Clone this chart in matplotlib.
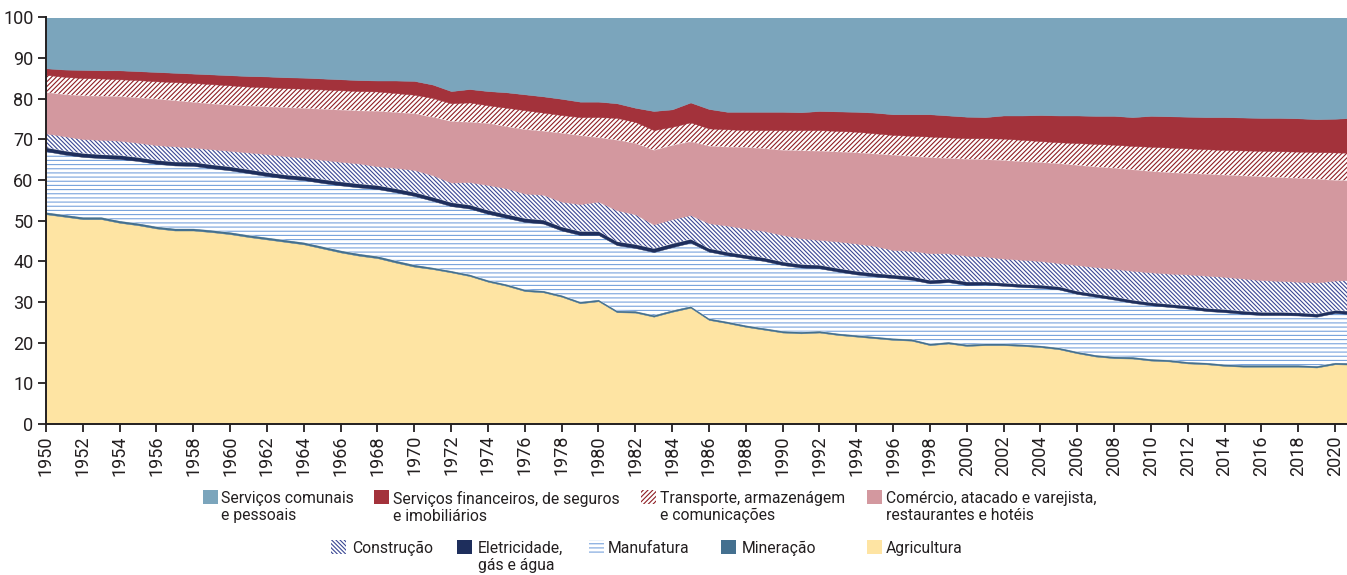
import matplotlib
matplotlib.use("Agg")
import matplotlib.pyplot as plt
from matplotlib.patches import Rectangle

# ---------------- data (shares of employment, %) ----------------
years = list(range(1950, 2022))

agricultura = [51.6, 51.0, 50.4, 50.4, 49.5, 48.9, 48.1, 47.6, 47.6, 47.2,
               46.7, 46.0, 45.4, 44.8, 44.2, 43.2, 42.2, 41.4, 40.8, 39.7,
               38.7, 38.1, 37.3, 36.4, 35.0, 34.0, 32.7, 32.4, 31.3, 29.7,
               30.2, 27.5, 27.4, 26.4, 27.6, 28.6, 25.6, 24.8, 23.9, 23.2,
               22.5, 22.3, 22.5, 21.9, 21.5, 21.1, 20.7, 20.5, 19.4, 19.8,
               19.2, 19.4, 19.4, 19.2, 18.9, 18.4, 17.4, 16.6, 16.2, 16.1,
               15.6, 15.4, 14.9, 14.7, 14.3, 14.1, 14.1, 14.1, 14.1, 13.9,
               14.7, 14.6]

mineracao = [0.5, 0.5, 0.5, 0.5, 0.5, 0.5, 0.5, 0.5, 0.5, 0.5,
             0.5, 0.5, 0.5, 0.5, 0.5, 0.5, 0.5, 0.5, 0.5, 0.5,
             0.5, 0.4, 0.4, 0.4, 0.4, 0.4, 0.4, 0.4, 0.4, 0.4,
             0.4, 0.4, 0.4, 0.4, 0.4, 0.4, 0.4, 0.4, 0.4, 0.4,
             0.4, 0.4, 0.4, 0.4, 0.4, 0.4, 0.4, 0.4, 0.4, 0.4,
             0.4, 0.4, 0.4, 0.4, 0.4, 0.4, 0.4, 0.4, 0.4, 0.4,
             0.4, 0.4, 0.4, 0.4, 0.4, 0.4, 0.4, 0.4, 0.4, 0.4,
             0.4, 0.4]

manufatura = [15.0, 14.8, 14.8, 14.5, 15.2, 15.3, 15.4, 15.5, 15.4, 15.2,
              15.2, 15.2, 15.1, 15.1, 15.3, 15.6, 16.0, 16.3, 16.5, 16.8,
              16.9, 16.4, 15.9, 16.2, 16.3, 16.3, 16.6, 16.5, 15.9, 16.4,
              15.9, 16.1, 15.5, 15.5, 15.5, 15.6, 16.4, 16.3, 16.5, 16.5,
              16.2, 15.8, 15.4, 15.2, 14.9, 14.8, 14.8, 14.6, 14.8, 14.7,
              14.6, 14.5, 14.2, 14.1, 14.2, 14.3, 14.2, 14.3, 14.0, 13.3,
              13.2, 13.0, 13.1, 12.7, 12.8, 12.6, 12.3, 12.3, 12.2, 12.1,
              12.2, 12.0]

eletricidade = [0.9, 0.9, 0.9, 0.9, 0.9, 0.9, 0.9, 0.9, 0.9, 0.9,
                0.9, 0.9, 0.9, 0.9, 0.9, 0.9, 0.9, 0.9, 0.9, 0.9,
                0.9, 0.9, 0.9, 0.9, 0.9, 0.9, 0.9, 0.9, 0.9, 0.9,
                0.9, 0.9, 0.9, 0.9, 0.9, 0.9, 0.8, 0.8, 0.8, 0.8,
                0.8, 0.8, 0.8, 0.8, 0.8, 0.8, 0.8, 0.8, 0.8, 0.8,
                0.8, 0.7, 0.7, 0.7, 0.7, 0.7, 0.7, 0.7, 0.7, 0.7,
                0.7, 0.7, 0.7, 0.7, 0.7, 0.7, 0.7, 0.7, 0.7, 0.7,
                0.7, 0.7]

construcao = [3.5, 3.6, 3.5, 3.6, 3.6, 3.6, 3.7, 3.8, 3.6, 3.8,
              3.9, 4.2, 4.5, 4.6, 4.6, 4.8, 4.9, 5.0, 4.7, 5.1,
              5.5, 5.4, 4.9, 5.6, 6.2, 6.4, 6.1, 6.2, 6.2, 6.7,
              7.3, 7.7, 7.4, 5.9, 6.0, 5.9, 6.2, 6.5, 6.5, 6.6,
              6.6, 6.4, 6.2, 6.6, 6.8, 6.7, 6.1, 6.3, 6.6, 6.3,
              6.4, 6.2, 6.0, 6.0, 5.9, 5.8, 6.4, 6.6, 6.9, 7.2,
              7.4, 7.5, 7.7, 8.0, 8.0, 8.0, 7.9, 7.7, 7.6, 7.7,
              7.3, 7.7]

comercio = [10.1, 10.3, 10.7, 10.8, 10.9, 11.1, 11.4, 11.3, 11.2, 11.2,
            11.3, 11.5, 11.7, 12.0, 12.2, 12.5, 12.8, 13.0, 13.6, 13.7,
            13.9, 14.3, 15.1, 14.8, 15.2, 15.2, 15.8, 15.7, 16.9, 16.9,
            15.8, 17.3, 17.5, 18.3, 18.2, 18.1, 19.0, 19.4, 20.0, 20.3,
            20.9, 21.6, 21.9, 22.1, 22.4, 22.7, 23.4, 23.3, 23.6, 23.4,
            23.8, 23.9, 24.2, 24.2, 24.3, 24.5, 24.6, 24.7, 24.8, 24.9,
            24.9, 24.9, 24.9, 25.0, 25.1, 25.3, 25.5, 25.5, 25.5, 25.5,
            24.7, 24.5]

transporte = [4.3, 4.3, 4.3, 4.3, 4.2, 4.3, 4.3, 4.5, 4.7, 4.8,
              4.8, 4.7, 4.7, 4.7, 4.8, 4.8, 4.8, 4.8, 4.8, 4.7,
              4.6, 4.7, 4.4, 4.8, 4.4, 4.6, 4.7, 4.5, 4.4, 4.5,
              5.0, 5.4, 5.2, 4.9, 4.5, 4.7, 4.3, 4.3, 4.2, 4.5,
              4.9, 5.0, 5.1, 5.1, 5.1, 5.0, 4.9, 5.0, 5.1, 5.1,
              5.1, 5.2, 5.3, 5.3, 5.2, 5.2, 5.4, 5.6, 5.7, 5.8,
              6.0, 6.1, 6.1, 6.1, 6.1, 6.2, 6.3, 6.4, 6.5, 6.6,
              6.8, 6.8]

financeiros = [1.6, 1.8, 2.0, 2.0, 2.2, 2.2, 2.3, 2.3, 2.3, 2.4,
               2.5, 2.6, 2.7, 2.7, 2.7, 2.7, 2.7, 2.7, 2.7, 3.1,
               3.4, 3.3, 3.0, 3.3, 3.5, 3.8, 3.9, 4.0, 4.0, 3.8,
               3.8, 3.6, 3.5, 4.7, 4.3, 4.9, 4.8, 4.3, 4.5, 4.5,
               4.5, 4.4, 4.7, 4.8, 4.9, 5.1, 5.1, 5.3, 5.5, 5.4,
               5.3, 5.2, 5.7, 6.0, 6.4, 6.6, 6.8, 6.9, 7.1, 7.1,
               7.6, 7.7, 7.8, 7.9, 8.1, 8.1, 8.1, 8.2, 8.2, 8.1,
               8.3, 8.6]

servicos = [12.5, 12.8, 12.9, 13.0, 13.0, 13.2, 13.4, 13.6, 13.8, 14.0,
            14.2, 14.4, 14.5, 14.7, 14.8, 15.0, 15.2, 15.4, 15.5, 15.5,
            15.6, 16.5, 18.1, 17.6, 18.1, 18.4, 18.9, 19.4, 20.0, 20.7,
            20.7, 21.1, 22.2, 23.0, 22.6, 20.9, 22.5, 23.2, 23.2, 23.2,
            23.2, 23.3, 23.0, 23.1, 23.2, 23.4, 23.8, 23.8, 23.8, 24.1,
            24.4, 24.5, 24.1, 24.1, 24.0, 24.1, 24.1, 24.2, 24.2, 24.5,
            24.2, 24.3, 24.4, 24.5, 24.5, 24.6, 24.7, 24.7, 24.8, 25.0,
            24.9, 24.7]

labels = ["Agricultura", "Mineração", "Manufatura", "Eletricidade,\ngás e água",
          "Construção", "Comércio, atacado e varejista,\nrestaurantes e hotéis",
          "Transporte, armazenágem\ne comunicações",
          "Serviços financeiros, de seguros\ne imobiliários",
          "Serviços comunais\ne pessoais"]

xtick_years = list(range(1950, 2021, 2))
ytick_vals = list(range(0, 101, 10))

# ---------------- style ----------------
plt.rcParams["font.family"] = ["Roboto", "DejaVu Sans"]
plt.rcParams["hatch.linewidth"] = 0.8

c_agri = "#FEE4A3"
c_min = "#44708F"
c_manuf = "#78A3DC"
c_elec = "#1E2E5C"
c_constr = "#3A4794"
c_com = "#D3989F"
c_trans = "#8E1E24"
c_fin = "#A3323B"
c_serv = "#7BA5BC"

h_manuf = "----"
h_constr = "\\" * 8
h_trans = "/" * 7

# (face, hatch colour, hatch)
styles = [
    (c_agri, None, None),
    (c_min, None, None),
    ("white", c_manuf, h_manuf),
    (c_elec, None, None),
    ("white", c_constr, h_constr),
    (c_com, None, None),
    ("white", c_trans, h_trans),
    (c_fin, None, None),
    (c_serv, None, None),
]

W, H = 1347, 575
fig = plt.figure(figsize=(W / 100, H / 100), dpi=100)
ax = fig.add_axes([46 / W, 1 - 424 / H, 1 - 46 / W, (424 - 17.5) / H])

series = [agricultura, mineracao, manufatura, eletricidade, construcao,
          comercio, transporte, financeiros, servicos]
polys = ax.stackplot(years, *series, linewidth=0)
for poly, (fc, hc, hatch) in zip(polys, styles):
    poly.set_facecolor(fc)
    if hatch:
        poly.set_edgecolor(hc)
        poly.set_hatch(hatch)
        poly.set_linewidth(0)
    else:
        poly.set_edgecolor(fc)
        poly.set_linewidth(0.3)

ax.set_xlim(1950, 2020.65)
ax.set_ylim(0, 100)
ax.set_xticks(xtick_years)
ax.set_xticklabels([str(y) for y in xtick_years], rotation=90)
ax.set_yticks(ytick_vals)
ax.set_yticklabels([str(v) for v in ytick_vals])
for s in ["top", "right"]:
    ax.spines[s].set_visible(False)
for s in ["left", "bottom"]:
    ax.spines[s].set_linewidth(1.4)
    ax.spines[s].set_color("#231F20")
    ax.spines[s].set_zorder(5)
ax.tick_params(axis="both", direction="out", length=6, width=1.3,
               color="#231F20", labelcolor="#231F20", labelsize=13, pad=3)
ax.tick_params(axis="x", pad=2)

# ---------------- legend (manual layout) ----------------
def px2fig(x, y):
    return x / W, 1 - y / H

legend_items = [
    # (label, face, hatch colour, hatch, patch x, patch top y, text x)
    (labels[8], c_serv, None, None, 203, 490, 221),
    (labels[7], c_fin, None, None, 374, 490, 393),
    (labels[6], "white", c_trans, h_trans, 641, 490, 660),
    (labels[5], c_com, None, None, 867, 490, 886),
    (labels[4], "white", c_constr, h_constr, 331, 540, 352),
    (labels[3], c_elec, None, None, 457, 540, 478),
    (labels[2], "white", c_manuf, h_manuf, 589, 540, 608),
    (labels[1], c_min, None, None, 721, 540, 742),
    (labels[0], c_agri, None, None, 867, 540, 886),
]
pw, ph = 15, 14
for lab, fc, hc, hatch, x, y, tx in legend_items:
    fx, fy = px2fig(x, y + ph)
    r = Rectangle((fx, fy), pw / W, ph / H, transform=fig.transFigure,
                  facecolor=fc, edgecolor=hc if hc else fc,
                  linewidth=0, hatch=hatch)
    fig.add_artist(r)
    tfx, tfy = px2fig(tx, y + 1)
    fig.text(tfx, tfy, lab, ha="left", va="top", fontsize=11.3,
             color="#231F20", linespacing=1.13)

fig.savefig("out.png", dpi=100)
